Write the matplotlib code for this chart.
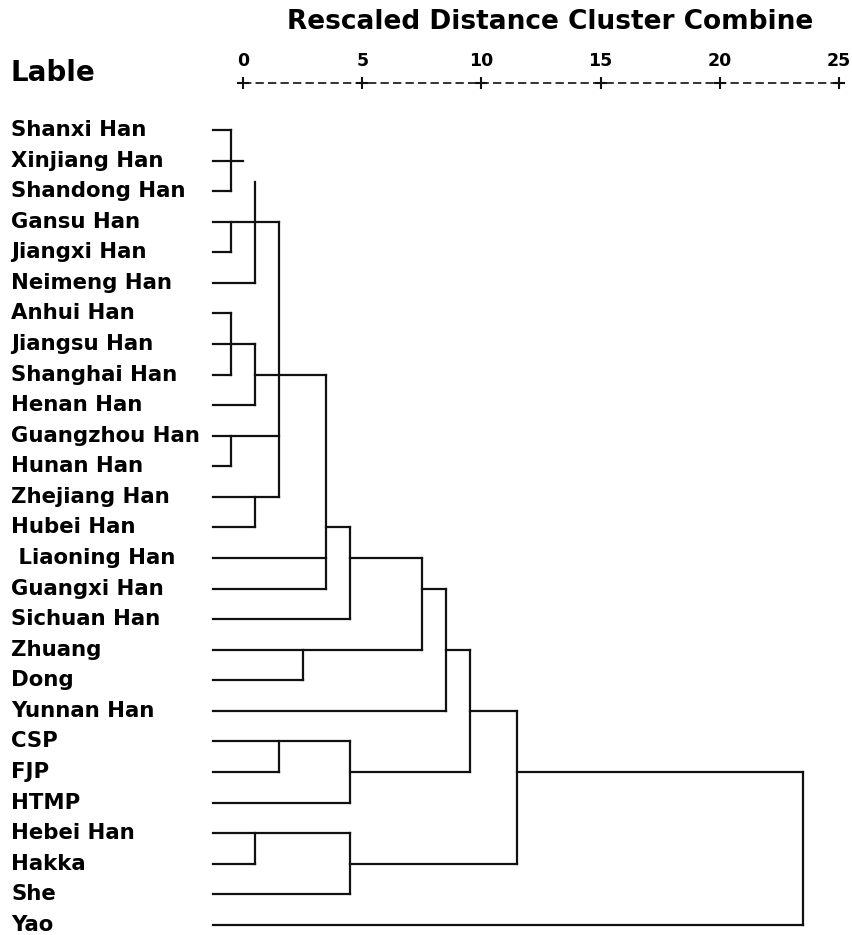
import matplotlib.pyplot as plt

labels = ['Shanxi Han', 'Xinjiang Han', 'Shandong Han', 'Gansu Han', 'Jiangxi Han',
          'Neimeng Han', 'Anhui Han', 'Jiangsu Han', 'Shanghai Han', 'Henan Han',
          'Guangzhou Han', 'Hunan Han', 'Zhejiang Han', 'Hubei Han', ' Liaoning Han',
          'Guangxi Han', 'Sichuan Han', 'Zhuang', 'Dong', 'Yunnan Han', 'CSP', 'FJP',
          'HTMP', 'Hebei Han', 'Hakka', 'She', 'Yao']

# where each leaf line ends (rescaled distance)
leaf_end = [-0.5, 0.0, -0.5, 1.5, -0.5, 0.5, -0.5, 0.5, -0.5, 0.5,
            1.5, -0.5, 1.5, 0.5, 3.5, 3.5, 4.5, 7.5, 2.5, 8.5,
            4.5, 1.5, 4.5, 4.5, 0.5, 4.5, 23.5]
leaf_start = -1.25

# vertical joins: distance, first row, last row
join_dist = [-0.5, 0.5, -0.5, 1.5, -0.5, 0.5, -0.5, 0.5, 3.5, 4.5,
             7.5, 8.5, 9.5, 11.5, 2.5, 1.5, 4.5, 0.5, 4.5, 23.5]
join_top = [0, 1.7, 3, 3, 6, 7, 10, 12, 8, 13,
            14, 15, 17, 19, 17, 20, 20, 23, 23, 21]
join_bot = [2, 5, 4, 12, 8, 9, 11, 13, 15, 16,
            17, 19, 21, 24, 18, 21, 22, 24, 25, 26]

# horizontal links between joins: row, from, to
link_row = [8, 13, 14, 15, 17, 19, 21, 21, 24]
link_from = [0.5, 3.5, 4.5, 7.5, 8.5, 9.5, 4.5, 11.5, 4.5]
link_to = [3.5, 4.5, 7.5, 8.5, 9.5, 11.5, 9.5, 23.5, 11.5]

ticks = [0, 5, 10, 15, 20, 25]

fig = plt.figure(figsize=(8.52, 9.35), dpi=100)
ax = fig.add_axes([0, 0, 1, 1])
ax.set_xlim(-10.19, 25.54)
ax.set_ylim(26.33, -4.25)
ax.axis('off')

col = '#111111'
lw = 1.6

for i, lab in enumerate(labels):
    ax.plot([leaf_start, leaf_end[i]], [i, i], color=col, lw=lw)
    ax.text(-9.72, i, lab, fontsize=15.3, fontweight='bold', va='center', ha='left')

for d, t, b in zip(join_dist, join_top, join_bot):
    ax.plot([d, d], [t, b], color=col, lw=lw)

for r, a, b in zip(link_row, link_from, link_to):
    ax.plot([a, b], [r, r], color=col, lw=lw)

# axis in SPSS style
axis_row = -1.53
ax.plot([0, 25], [axis_row, axis_row], color=col, lw=1.2, dashes=(5, 2.5))
ax.plot(ticks, [axis_row] * len(ticks), ls='none', marker='+', ms=9, mew=1.5, color=col)
for t in ticks:
    ax.text(t, -2.25, str(t), fontsize=12.5, fontweight='bold', ha='center', va='center')

ax.text(12.9, -3.52, 'Rescaled Distance Cluster Combine', fontsize=19,
        fontweight='bold', ha='center', va='center')
ax.text(-9.77, -1.86, 'Lable', fontsize=20, fontweight='bold', ha='left', va='center')

fig.savefig('out.png', dpi=100)
